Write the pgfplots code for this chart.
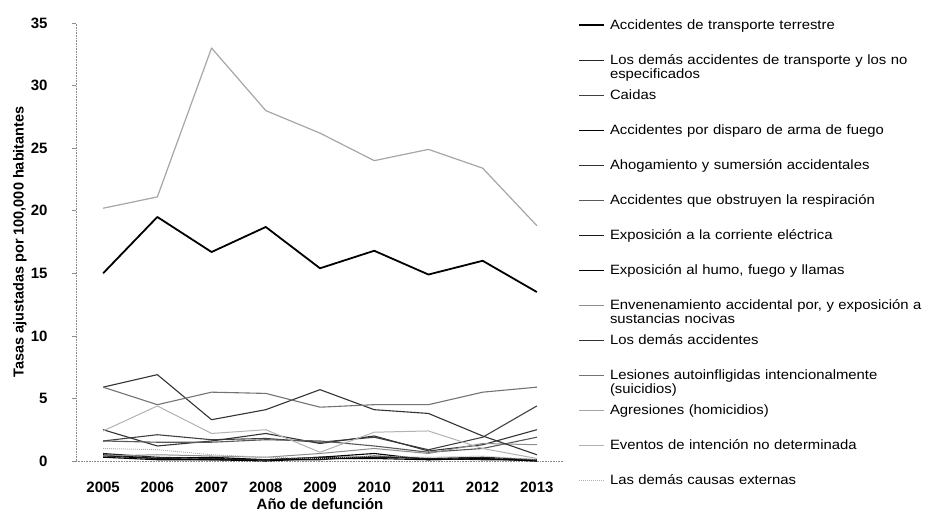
\documentclass[border=0pt]{standalone}
\usepackage{fontspec}
\setmainfont{Liberation Sans}
\newfontfamily\legfont{Liberation Sans}[FakeStretch=1.1]
\usepackage{pgfplots}
\pgfplotsset{compat=1.18}
\begin{document}
\begin{tikzpicture}
\path[use as bounding box] (0,0) rectangle (927pt,514pt);
\begin{axis}[
  at={(76pt,53pt)}, anchor=south west,
  scale only axis, width=488pt, height=438pt,
  xmin=2004.5, xmax=2013.5, ymin=0, ymax=35,
  clip=false,
  xtick={2005,...,2013}, ytick={0,5,...,35},
  /pgf/number format/assume math mode=true,
  /pgf/number format/1000 sep={},
  tick label style={font=\fontsize{15}{15}\selectfont\bfseries},
  xticklabel style={yshift=-13pt},
  yticklabel style={xshift=-21pt},
  axis x line*=bottom, axis y line*=left,
  axis line style={black!45, densely dotted, line width=0.6pt},
  xtick style={draw=none},
  ytick style={black!45, line width=0.5pt},
  tick align=outside, major tick length=4pt,
  xlabel={Año de defunción},
  xlabel style={at={(axis description cs:0.5,-0.099)}, anchor=center, font=\fontsize{15}{15}\selectfont\bfseries},
  ylabel={Tasas ajustadas por 100,000 habitantes},
  ylabel style={at={(axis description cs:-0.115,0.5)}, anchor=center, font=\fontsize{14.5}{14.5}\selectfont\bfseries},
  legend cell align=left,
  legend style={at={(axis description cs:1.0287,1.0194)}, anchor=north west, draw=none, fill=none, inner sep=0pt, row sep=0pt, column sep=5pt,
    nodes={text width=330pt, align=left, inner sep=0pt, text height=15pt, text depth=20pt, font=\legfont\fontsize{13.5}{14}\selectfont}},
  legend image code/.code={\draw[#1] (0pt,7pt) -- (25pt,7pt);},
  every axis plot/.append style={line join=round},
]
\addplot[black, line width=1.8pt] coordinates {(2005,15.0)(2006,19.5)(2007,16.7)(2008,18.7)(2009,15.4)(2010,16.8)(2011,14.9)(2012,16.0)(2013,13.5)};
\addlegendentry{Accidentes de transporte terrestre}
\addplot[black!85, line width=1.1pt] coordinates {(2005,0.6)(2006,0.3)(2007,0.2)(2008,0.1)(2009,0.1)(2010,0.4)(2011,0.2)(2012,0.3)(2013,0.1)};
\addlegendentry{Los demás accidentes de transporte y los no\\especificados}
\addplot[black!75, line width=1.1pt] coordinates {(2005,1.6)(2006,2.1)(2007,1.7)(2008,1.8)(2009,1.5)(2010,1.9)(2011,0.9)(2012,1.9)(2013,4.4)};
\addlegendentry{Caidas}
\addplot[black, line width=1.1pt] coordinates {(2005,0.4)(2006,0.2)(2007,0.3)(2008,0.1)(2009,0.3)(2010,0.6)(2011,0.1)(2012,0.2)(2013,0.0)};
\addlegendentry{Accidentes por disparo de arma de fuego}
\addplot[black!80, line width=1.1pt] coordinates {(2005,2.5)(2006,1.2)(2007,1.6)(2008,2.2)(2009,1.4)(2010,2.0)(2011,0.8)(2012,1.3)(2013,2.5)};
\addlegendentry{Ahogamiento y sumersión accidentales}
\addplot[black!65, line width=1.1pt] coordinates {(2005,1.6)(2006,1.5)(2007,1.5)(2008,1.7)(2009,1.6)(2010,1.2)(2011,0.7)(2012,1.0)(2013,1.9)};
\addlegendentry{Accidentes que obstruyen la respiración}
\addplot[black!90, line width=1.1pt] coordinates {(2005,0.5)(2006,0.2)(2007,0.1)(2008,0.1)(2009,0.3)(2010,0.3)(2011,0.2)(2012,0.1)(2013,0.1)};
\addlegendentry{Exposición a la corriente eléctrica}
\addplot[black, line width=1.1pt] coordinates {(2005,0.3)(2006,0.1)(2007,0.1)(2008,0.0)(2009,0.2)(2010,0.2)(2011,0.1)(2012,0.2)(2013,0.0)};
\addlegendentry{Exposición al humo, fuego y llamas}
\addplot[black!45, line width=1.0pt] coordinates {(2005,0.4)(2006,0.5)(2007,0.4)(2008,0.3)(2009,0.6)(2010,1.0)(2011,0.6)(2012,1.4)(2013,1.3)};
\addlegendentry{Envenenamiento accidental por, y exposición a\\sustancias nocivas}
\addplot[black!80, line width=1.1pt] coordinates {(2005,5.9)(2006,6.9)(2007,3.3)(2008,4.1)(2009,5.7)(2010,4.1)(2011,3.8)(2012,2.0)(2013,0.5)};
\addlegendentry{Los demás accidentes}
\addplot[black!55, line width=1.1pt] coordinates {(2005,5.9)(2006,4.5)(2007,5.5)(2008,5.4)(2009,4.3)(2010,4.5)(2011,4.5)(2012,5.5)(2013,5.9)};
\addlegendentry{Lesiones autoinfligidas intencionalmente\\(suicidios)}
\addplot[black!35, line width=1.2pt] coordinates {(2005,20.2)(2006,21.1)(2007,33.0)(2008,28.0)(2009,26.2)(2010,24.0)(2011,24.9)(2012,23.4)(2013,18.8)};
\addlegendentry{Agresiones (homicidios)}
\addplot[black!30, line width=1.0pt] coordinates {(2005,2.4)(2006,4.4)(2007,2.2)(2008,2.5)(2009,0.7)(2010,2.3)(2011,2.4)(2012,1.0)(2013,0.2)};
\addlegendentry{Eventos de intención no determinada}
\addplot[black!30, line width=1.0pt, densely dotted] coordinates {(2005,1.0)(2006,0.9)(2007,0.5)(2008,0.3)(2009,0.2)(2010,0.4)(2011,0.3)(2012,0.4)(2013,0.1)};
\addlegendentry{Las demás causas externas}
\end{axis}
\end{tikzpicture}
\end{document}
